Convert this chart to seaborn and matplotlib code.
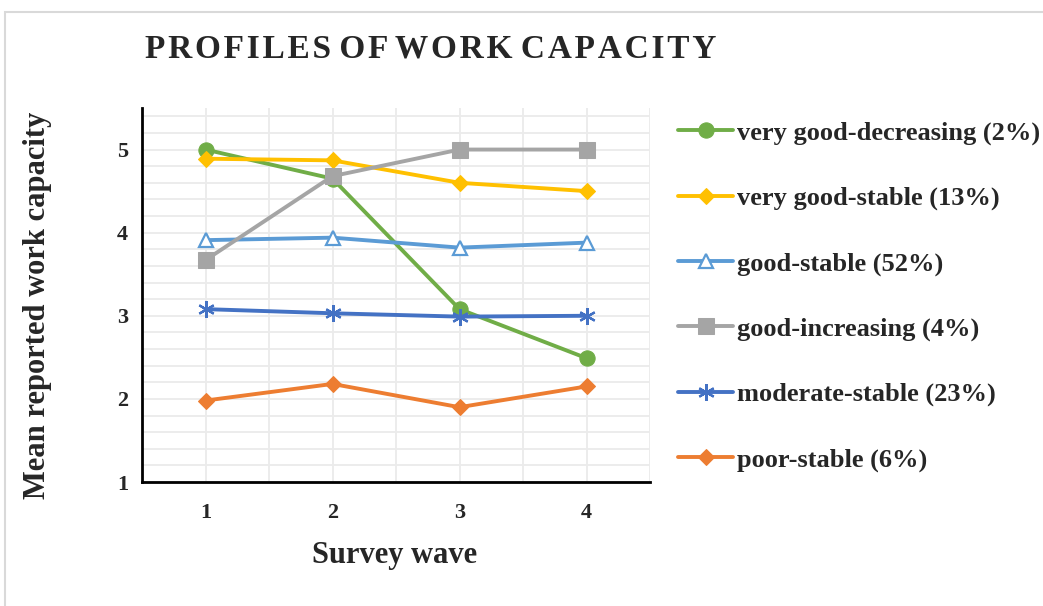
import numpy as np
import pandas as pd
import matplotlib
matplotlib.use("Agg")
import matplotlib.pyplot as plt
import seaborn as sns
from matplotlib.patches import Rectangle

sns.set_theme(style="white")
plt.rcParams["font.family"] = ["Liberation Serif", "DejaVu Serif"]
plt.rcParams["font.weight"] = "bold"

waves = [1, 2, 3, 4]
profiles = [
    "very good-decreasing (2%)",
    "very good-stable (13%)",
    "good-stable (52%)",
    "good-increasing (4%)",
    "moderate-stable (23%)",
    "poor-stable (6%)",
]
very_good_decreasing = [5.00, 4.65, 3.08, 2.49]
very_good_stable = [4.89, 4.87, 4.60, 4.50]
good_stable = [3.91, 3.94, 3.82, 3.88]
good_increasing = [3.67, 4.68, 5.00, 5.00]
moderate_stable = [3.08, 3.03, 2.99, 3.00]
poor_stable = [1.98, 2.18, 1.90, 2.15]
series = [very_good_decreasing, very_good_stable, good_stable,
          good_increasing, moderate_stable, poor_stable]

colors = ["#70AD47", "#FFC000", "#5B9BD5", "#A5A5A5", "#4472C4", "#ED7D31"]
styles = [
    dict(marker="o", markersize=11, markerfacecolor="#70AD47", markeredgecolor="#70AD47"),
    dict(marker="D", markersize=8, markerfacecolor="#FFC000", markeredgecolor="#FFC000"),
    dict(marker="^", markersize=10, markerfacecolor="white", markeredgecolor="#5B9BD5", markeredgewidth=1.6),
    dict(marker="s", markersize=12, markerfacecolor="#A5A5A5", markeredgecolor="#A5A5A5"),
    dict(marker=(6, 2, 0), markersize=12, markeredgecolor="#4472C4", markeredgewidth=1.6),
    dict(marker="D", markersize=8, markerfacecolor="#ED7D31", markeredgecolor="#ED7D31"),
]

df = pd.DataFrame({
    "wave": np.tile(waves, len(profiles)),
    "value": np.concatenate(series),
    "profile": np.repeat(profiles, len(waves)),
})

W, H = 1043, 606
fig = plt.figure(figsize=(W / 100, H / 100), dpi=100)
# outer chart frame
fig.patches.append(Rectangle((5 / W, -0.1), 1.2, 1 - 12 / H + 0.1,
                             transform=fig.transFigure, fill=False,
                             edgecolor="#D9D9D9", linewidth=1.5))

ax = fig.add_axes([142 / W, 1 - 482 / H, (650 - 142) / W, (482 - 108) / H])

for name, col, st in zip(profiles, colors, styles):
    sub = df[df["profile"] == name]
    sns.lineplot(data=sub, x="wave", y="value", ax=ax, color=col,
                 linewidth=2.8, label=name, **st)

ax.set_xlim(0.5, 4.5)
ax.set_ylim(1, 5.5)
ax.set_xticks(waves)
ax.set_yticks([1, 2, 3, 4, 5])
ax.set_xticks(np.arange(0.5, 4.6, 0.5), minor=True)
ax.set_yticks(np.arange(1, 5.51, 0.2), minor=True)
ax.grid(which="minor", color="#EBEBEB", linewidth=1.3)
ax.grid(which="major", color="#EBEBEB", linewidth=1.3)
ax.set_axisbelow(True)
for s in ["top", "right"]:
    ax.spines[s].set_visible(False)
for s in ["left", "bottom"]:
    ax.spines[s].set_color("black")
    ax.spines[s].set_linewidth(2)
ax.tick_params(axis="x", which="both", length=0, labelsize=16, pad=15)
ax.tick_params(axis="y", which="both", length=0, labelsize=16, pad=10)
for lab in ax.get_xticklabels() + ax.get_yticklabels():
    lab.set_fontweight("bold")

ax.set_xlabel("Survey wave", fontsize=22, fontweight="bold")
ax.xaxis.set_label_coords((395 - 142) / (650 - 142), -(556 - 482) / (482 - 108))
ax.xaxis.label.set_va("center")
ax.set_ylabel("Mean reported work capacity", fontsize=22, fontweight="bold")
ax.yaxis.set_label_coords(-(142 - 38) / (650 - 142), (482 - 305) / (482 - 108))
ax.yaxis.label.set_va("center")

# title with slightly widened letter spacing (hair spaces between letters)
title = "PROFILES OF WORK CAPACITY"
spaced = " ".join("\u200a".join(word) for word in title.split(" "))
fig.text(145 / W, 1 - 49 / H, spaced,
         fontsize=24, fontweight="bold", va="center", ha="left")

leg = fig.legend(*ax.get_legend_handles_labels(), loc="upper left",
                 bbox_to_anchor=(678 / W, 1 - 121 / H), frameon=False,
                 fontsize=19, handlelength=2.1, handletextpad=0.15,
                 labelspacing=1.57, borderaxespad=0, borderpad=0)
ax.get_legend().remove()
for t in leg.get_texts():
    t.set_fontweight("bold")

fig.savefig("out.png", dpi=100)
